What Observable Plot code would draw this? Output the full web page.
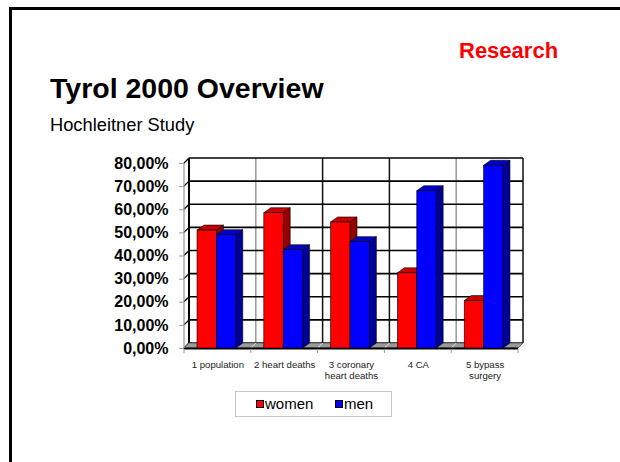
<!DOCTYPE html>
<html><head><meta charset="utf-8">
<script src="https://cdn.jsdelivr.net/npm/d3@7"></script>
<script src="https://cdn.jsdelivr.net/npm/@observablehq/plot@0.6"></script>
<style>
body{margin:0;background:#fff;}
#slide{position:relative;width:620px;height:462px;overflow:hidden;font-family:"Liberation Sans",Arial,sans-serif;background:#fff;}
#bt{position:absolute;left:9px;top:7px;right:0;height:3px;background:#000}
#bl{position:absolute;left:9px;top:7px;width:3px;bottom:0;background:#000}
.t{position:absolute;white-space:nowrap;line-height:1;}
#title{left:50px;top:74px;font-size:28.5px;font-weight:bold;color:#000}
#research{left:459px;top:40px;font-size:22px;font-weight:bold;color:#ff0000}
#sub{left:50px;top:116px;font-size:18.3px;color:#000}
#chart{position:absolute;left:0;top:140px;}
#legend{position:absolute;left:235px;top:391px;width:155px;height:24px;border:1px solid #c8c8c8;background:#fff;font-size:15px;}
.li{position:absolute;top:4px;line-height:16px;}
.sw{display:inline-block;width:6px;height:6px;border:1px solid #000;margin-right:1px;vertical-align:1px;}
</style></head>
<body>
<div id="slide">
  <div id="bt"></div><div id="bl"></div>
  <div class="t" id="research">Research</div>
  <div class="t" id="title">Tyrol 2000 Overview</div>
  <div class="t" id="sub">Hochleitner Study</div>
  <div id="chart"></div>
  <div id="legend"></div>
</div>
<script>
// ---- data ----
const categories = ["1 population", "2 heart deaths", "3 coronary\nheart deaths", "4 CA", "5 bypass\nsurgery"];
const women = [0.51, 0.585, 0.545, 0.325, 0.205];
const men = [0.49, 0.425, 0.46, 0.68, 0.79];
const series = ["women", "men"];
const yTicks = [0, 0.1, 0.2, 0.3, 0.4, 0.5, 0.6, 0.7, 0.8];

// ---- styles ----
const colors = {women: {front: "#ff0000", top: "#c80000", side: "#960000"},
                men:   {front: "#0000ff", top: "#0000c8", side: "#000096"}};
const DX = 7, DY = 5;   // bar depth (px)
const WX = 5, WY = 5;   // wall/floor depth (px)
const OFF = 0.195, BW = 0.29;
const vGridColor = ["#000", "#999", "#111", "#111", "#999", "#111"];

const bars = categories.flatMap((c, i) => [
  {cat: c, i, s: "women", k: 0, v: women[i]},
  {cat: c, i, s: "men", k: 1, v: men[i]}
]);
const bx1 = d => d.i + OFF + d.k * BW;
const bx2 = d => d.i + OFF + (d.k + 1) * BW;
const fmt = v => d3.format(".2f")(v * 100).replace(".", ",") + "%";

function walls(index, scales) {
  const x = scales.x, y = scales.y;
  const g = d3.create("svg:g");
  const x0 = x(0), x5 = x(5), y0 = y(0), yT = y(0.8);
  g.append("path").attr("d", `M${x0},${y0}L${x0},${yT}L${x0 + WX},${yT - WY}L${x0 + WX},${y0 - WY}Z`)
    .attr("fill", "#fff").attr("stroke", "#b0b0b0").attr("stroke-width", 1);
  for (let i = 1; i <= 5; i++) {
    g.append("line").attr("x1", x(i) + WX).attr("x2", x(i) + WX).attr("y1", y0 - WY).attr("y2", yT - WY)
      .attr("stroke", vGridColor[i]).attr("stroke-width", 1.5);
  }
  for (const v of yTicks) {
    g.append("line").attr("x1", x0 + WX).attr("x2", x5 + WX).attr("y1", y(v) - WY).attr("y2", y(v) - WY)
      .attr("stroke", "#000").attr("stroke-width", 1.6);
    g.append("line").attr("x1", x0).attr("x2", x0 + WX).attr("y1", y(v)).attr("y2", y(v) - WY)
      .attr("stroke", "#000").attr("stroke-width", 1.2);
  }
  g.append("line").attr("x1", x0 + WX).attr("x2", x0 + WX).attr("y1", y0 - WY).attr("y2", yT - WY)
    .attr("stroke", "#000").attr("stroke-width", 2);
  g.append("path").attr("d", `M${x0},${y0}L${x0 + WX},${y0 - WY}L${x5 + WX},${y0 - WY}L${x5},${y0}Z`)
    .attr("fill", "#9a9a9a").attr("stroke", "#555").attr("stroke-width", 0.8);
  for (let i = 1; i < 5; i++) {
    g.append("line").attr("x1", x(i)).attr("x2", x(i) + WX).attr("y1", y0).attr("y2", y0 - WY)
      .attr("stroke", "#e0e0e0").attr("stroke-width", 1);
  }
  g.append("line").attr("x1", x0).attr("x2", x5).attr("y1", y0 + 0.5).attr("y2", y0 + 0.5)
    .attr("stroke", "#000").attr("stroke-width", 2);
  g.append("line").attr("x1", x0).attr("x2", x0).attr("y1", y0).attr("y2", yT)
    .attr("stroke", "#aaa").attr("stroke-width", 1);
  for (let i = 0; i <= 5; i++) {
    g.append("line").attr("x1", x(i)).attr("x2", x(i)).attr("y1", y0 + 1).attr("y2", y0 + 5)
      .attr("stroke", "#999").attr("stroke-width", 1);
  }
  return g.node();
}

function faces(index, scales) {
  const x = scales.x, y = scales.y;
  const g = d3.create("svg:g");
  const yb = y(0);
  for (const d of bars) {
    const xa = x(bx1(d)), xb = x(bx2(d)), yt = y(d.v), c = colors[d.s];
    g.append("path").attr("d", `M${xb},${yt}L${xb + DX},${yt - DY}L${xb + DX},${yb - DY}L${xb},${yb}Z`)
      .attr("fill", c.side).attr("stroke", "#000").attr("stroke-width", 0.6);
    g.append("path").attr("d", `M${xa},${yt}L${xa + DX},${yt - DY}L${xb + DX},${yt - DY}L${xb},${yt}Z`)
      .attr("fill", c.top).attr("stroke", "#000").attr("stroke-width", 0.6);
  }
  return g.node();
}

const chart = Plot.plot({
  width: 620, height: 250,
  marginLeft: 184, marginRight: 102, marginTop: 23, marginBottom: 42,
  x: {domain: [0, 5], axis: null},
  y: {domain: [0, 0.8], axis: null},
  color: {domain: series, range: [colors.women.front, colors.men.front]},
  style: {background: "transparent", overflow: "visible"},
  marks: [
    walls,
    Plot.axisY(yTicks, {label: null, tickFormat: fmt, tickSize: 5, tickPadding: 11, fontSize: 16, fontWeight: "bold",
      stroke: "#999", fill: "#000", fontFamily: "Liberation Sans, Arial, sans-serif"}),
    faces,
    Plot.rect(bars, {x1: bx1, x2: bx2, y1: 0, y2: "v", fill: "s", stroke: "#000", strokeWidth: 0.6}),
    Plot.text(categories, {x: (d, i) => i + 0.5, y: () => 0, text: d => d, dy: 12, lineAnchor: "top",
      fontSize: 9.6, lineHeight: 1.1, fill: "#222", fontFamily: "Liberation Sans, Arial, sans-serif"})
  ]
});
document.getElementById("chart").appendChild(chart);

// legend
const leg = document.getElementById("legend");
const legX = [20, 99];
series.forEach((s, j) => {
  const item = document.createElement("div");
  item.className = "li";
  item.style.left = legX[j] + "px";
  item.innerHTML = `<span class="sw" style="background:${colors[s].front}"></span>${s}`;
  leg.appendChild(item);
});
</script>
</body></html>
